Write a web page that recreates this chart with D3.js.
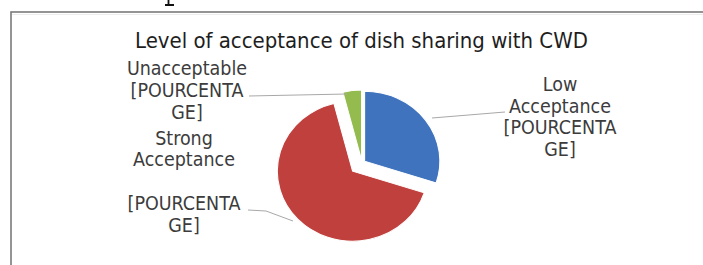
<!DOCTYPE html>
<html>
<head>
<meta charset="utf-8">
<script src="https://cdn.jsdelivr.net/npm/d3@7"></script>
<style>
html,body{margin:0;padding:0;background:#fff;overflow:hidden;}
svg{display:block;}
</style>
</head>
<body>
<svg id="chart" width="703" height="265"></svg>
<script>
// ---- data ----
const title = "Level of acceptance of dish sharing with CWD";
const categories = ["Low Acceptance", "Strong Acceptance", "Unacceptable"];
const values = [30, 66, 4];
const colors = ["#3f73bd", "#c0403d", "#93bb4e"];
const labelLines = [
  ["Low", "Acceptance", "[POURCENTA", "GE]"],
  ["Strong", "Acceptance", "", "[POURCENTA", "GE]"],
  ["Unacceptable", "[POURCENTA", "GE]"]
];

// ---- layout ----
const W = 703, H = 265;
const svg = d3.select("#chart");
const font = "'DejaVu Sans Condensed','DejaVu Sans',sans-serif";

// fragment of a glyph from the page above the chart (drawn as a shape)
svg.append("path").attr("d", "M168.5,0 L168.5,4.5 M165,5 L174,5")
  .attr("stroke", "#111").attr("stroke-width", 1.8).attr("fill", "none");

// chart frame
svg.append("rect").attr("x", 11).attr("y", 12).attr("width", W).attr("height", H)
  .attr("fill", "#fff").attr("stroke", "#7a7a7a").attr("stroke-width", 1.6);
svg.append("line").attr("x1", 12).attr("x2", W).attr("y1", 14.5).attr("y2", 14.5)
  .attr("stroke", "#ececec").attr("stroke-width", 1);

function fitText(sel, target) {
  const w = sel.node().getComputedTextLength();
  const fs = parseFloat(sel.attr("font-size"));
  sel.attr("font-size", fs * target / w);
}

// title
const t = svg.append("text").attr("x", 361.5).attr("y", 48)
  .attr("text-anchor", "middle").attr("font-family", font)
  .attr("font-size", 17).attr("fill", "#1e1e1e").text(title);
fitText(t, 453);

// pie
const defs = svg.append("defs");
defs.append("filter").attr("id", "soft").attr("x", "-10%").attr("y", "-10%")
  .attr("width", "120%").attr("height", "120%")
  .append("feGaussianBlur").attr("stdDeviation", 0.6);

const cx = 362, cy = 163, r = 70, sx = 1.075;
const explode = [3, 12, 3];
const pie = d3.pie().sort(null).value(d => d);
const arcs = pie(values);
const arc = d3.arc().innerRadius(0).outerRadius(r);
const g = svg.append("g").attr("transform", `translate(${cx},${cy}) scale(${sx},1)`)
  .attr("filter", "url(#soft)");
g.selectAll("path").data(arcs).enter().append("path")
  .attr("d", arc)
  .attr("transform", (d, i) => {
    const m = (d.startAngle + d.endAngle) / 2;
    return `translate(${Math.sin(m) * explode[i]},${-Math.cos(m) * explode[i]})`;
  })
  .attr("fill", (d, i) => colors[i])
  .attr("stroke", "#fff").attr("stroke-width", 1);

// leader lines
const leaders = [
  [[505, 112], [432, 118]],
  [[248, 210], [266, 211], [293, 221]],
  [[249, 96], [347, 94]]
];
const line = d3.line();
svg.selectAll("path.leader").data(leaders).enter().append("path")
  .attr("class", "leader").attr("d", line)
  .attr("fill", "none").attr("stroke", "#a8a8a8").attr("stroke-width", 1);

// labels
const labelPos = [
  {x: 560, y: [91, 113, 134, 156]},
  {x: 184, y: [145, 166, 188, 210, 232]},
  {x: 187, y: [75, 97, 119]}
];
const probe = svg.append("text").attr("font-family", font).attr("font-size", 14).text("Acceptance");
fitText(probe, 102);
const lfs = parseFloat(probe.attr("font-size"));
probe.remove();

labelLines.forEach((lines, i) => {
  lines.forEach((s, j) => {
    if (!s) return;
    svg.append("text").attr("x", labelPos[i].x).attr("y", labelPos[i].y[j])
      .attr("text-anchor", "middle").attr("font-family", font)
      .attr("font-size", lfs).attr("fill", "#3c3c3c").text(s);
  });
});
</script>
</body>
</html>
